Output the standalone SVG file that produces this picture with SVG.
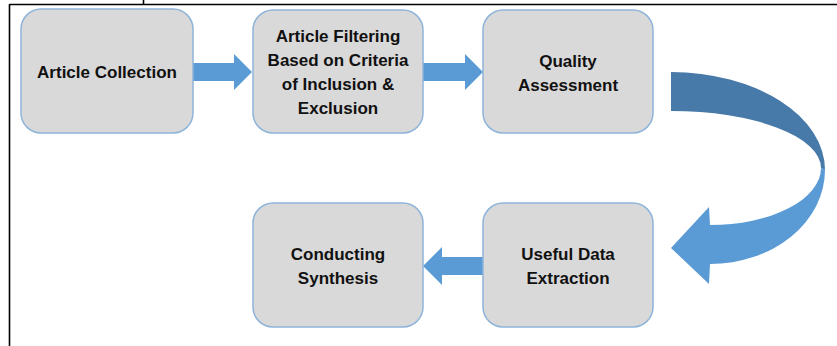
<svg xmlns="http://www.w3.org/2000/svg" width="837" height="346" viewBox="0 0 837 346">
<style>
.box{fill:#D9D9D9;stroke:#8FB4DA;stroke-width:1.5}
.t{font-family:"Liberation Sans",Arial,sans-serif;font-weight:bold;font-size:17px;fill:#111;text-anchor:middle}
.arr{fill:#5B9BD5}
.dark{fill:#4779A9}
</style>
<rect width="837" height="346" fill="#fff"/>
<g id="frame" stroke="#000" stroke-width="1.6" fill="none">
<line x1="9.5" y1="4.5" x2="837" y2="4.5"/>
<line x1="9.5" y1="4" x2="9.5" y2="346"/>
<line x1="143.5" y1="0" x2="143.5" y2="4"/>
</g>
<g id="connectors">
<path class="arr" d="M193,63 H234 V54 L252,72 L234,90 V81 H193 Z"/>
<path class="arr" d="M423,63 H465 V54 L483,72 L465,90 V81 H423 Z"/>
<path class="arr" d="M483,257 H442 V247 L423,266 L442,285 V275 H483 Z"/>
<path class="dark" d="M671,72 A154,98 0 0 1 825,170 L821,168 A150,57 0 0 0 671,111 Z"/>
<path class="arr" d="M825,170 A115,94 0 0 1 710,264 L709,284 L671,248 L709,207 L710,225 A111,57 0 0 0 821,168 Z"/>
</g>
<g id="n1"><rect class="box" x="21" y="9" width="172" height="124" rx="20"/><text class="t" x="107" y="78">Article Collection</text></g>
<g id="n2"><rect class="box" x="253" y="10" width="170" height="123" rx="20"/>
<text class="t" x="338" y="42">Article Filtering</text>
<text class="t" x="338" y="66">Based on Criteria</text>
<text class="t" x="338" y="90">of Inclusion &amp;</text>
<text class="t" x="338" y="114">Exclusion</text></g>
<g id="n3"><rect class="box" x="483" y="10" width="170" height="123" rx="20"/>
<text class="t" x="568" y="67">Quality</text>
<text class="t" x="568" y="91">Assessment</text></g>
<g id="n4"><rect class="box" x="253" y="203" width="170" height="124" rx="20"/>
<text class="t" x="338" y="260">Conducting</text>
<text class="t" x="338" y="284">Synthesis</text></g>
<g id="n5"><rect class="box" x="483" y="203" width="170" height="124" rx="20"/>
<text class="t" x="568" y="260">Useful Data</text>
<text class="t" x="568" y="284">Extraction</text></g>
</svg>
